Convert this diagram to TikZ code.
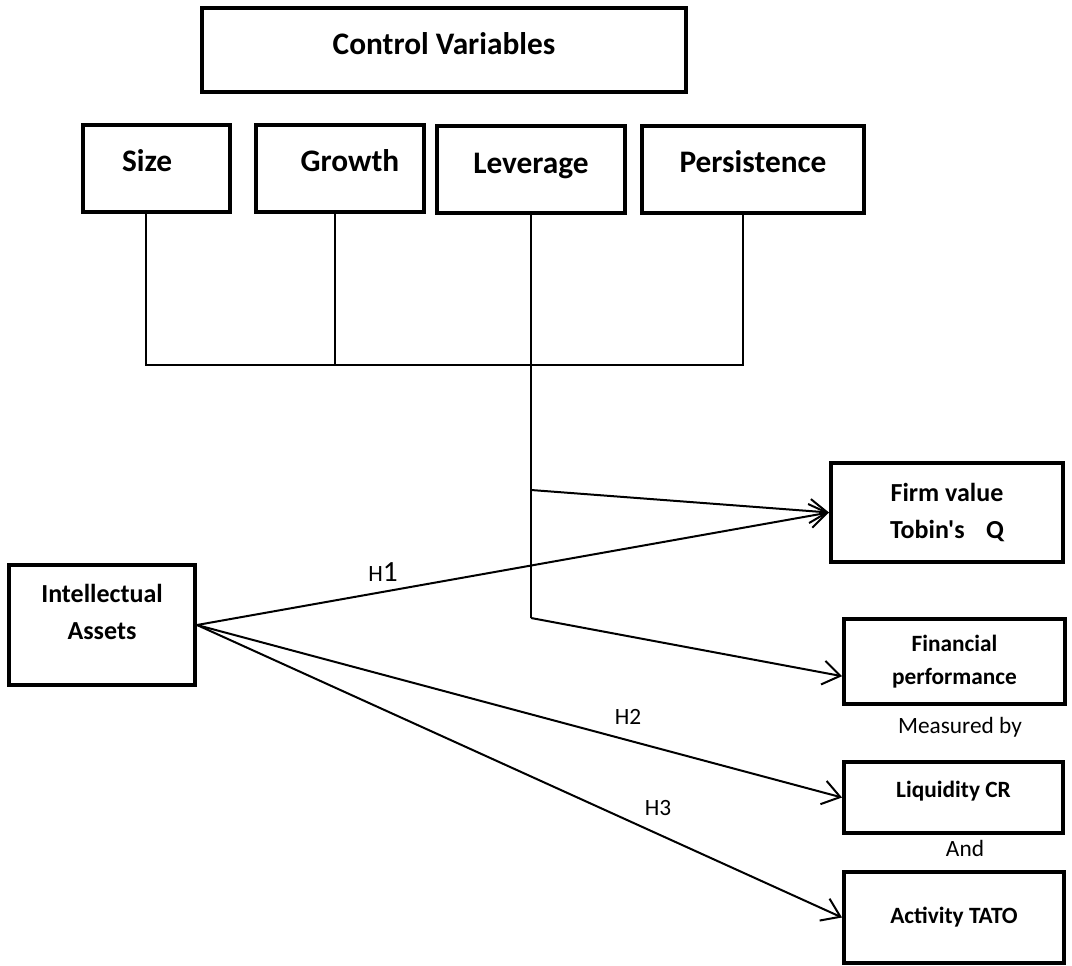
\documentclass[tikz,border=0pt]{standalone}
\usepackage{fontspec}
\setmainfont{Carlito}[Ligatures=TeXOff]
\usetikzlibrary{arrows.meta}

\newcommand{\boxlift}[2]{\raisebox{#1}[\height][\depth]{#2}}

\begin{document}
\begin{tikzpicture}[x=0.75pt,y=0.75pt,yscale=-1,xscale=1,
	box/.style={draw, line width=3pt, inner sep=0pt, align=center},
	big/.style={font=\fontsize{23.5}{28}\selectfont\bfseries},
	mid/.style={font=\fontsize{19.5}{27.75}\selectfont\bfseries},
	small/.style={font=\fontsize{17.5}{24.75}\selectfont\bfseries},
	note/.style={font=\fontsize{17.5}{21}\selectfont, inner sep=0pt},
	link/.style={line width=1.1pt},
	hyp/.style={line width=1.5pt, -{Straight Barb[length=13pt,width=18pt]}}]
	\useasboundingbox (0,0) rectangle (1072,966);
	
	%Shape: Rectangle [control variables]
	\node [box, big, minimum width=363pt, minimum height=63pt] (cv) at (444,50) {\boxlift{5pt}{Control Variables}};
	
	%Shape: Rectangle [size]
	\node [box, big, minimum width=110.25pt, minimum height=65.25pt] (size) at (156.5,168.5) {\boxlift{6pt}{Size\hspace{14pt}}};
	%Shape: Rectangle [growth]
	\node [box, big, minimum width=126pt, minimum height=65.25pt] (growth) at (340,168.5) {\boxlift{6pt}{\hspace{15pt}Growth}};
	%Shape: Rectangle [leverage]
	\node [box, big, minimum width=141pt, minimum height=65.25pt] (lev) at (531,169.5) {\boxlift{3pt}{Leverage}};
	%Shape: Rectangle [persistence]
	\node [box, big, minimum width=166.5pt, minimum height=65.25pt] (pers) at (753,169.5) {\boxlift{6pt}{Persistence}};
	
	%Shape: Rectangle [intellectual assets]
	\node [box, mid, minimum width=139.5pt, minimum height=90pt] (ia) at (102,625) {\boxlift{10pt}{Intellectual}\\\boxlift{10pt}{Assets}};
	
	%Shape: Rectangle [firm value]
	\node [box, mid, minimum width=174pt, minimum height=74.25pt] (firm) at (947,512.5) {Firm value\\Tobin's\hspace{0.6em} Q};
	%Shape: Rectangle [financial performance]
	\node [box, small, minimum width=165.75pt, minimum height=63.75pt] (fin) at (954.5,661.5) {Financial\\performance};
	%Shape: Rectangle [liquidity]
	\node [box, small, minimum width=164.25pt, minimum height=53.25pt] (liq) at (953.5,797.5) {\boxlift{5pt}{Liquidity CR}};
	%Shape: Rectangle [activity]
	\node [box, small, minimum width=165pt, minimum height=68.25pt] (act) at (954,917.5) {Activity TATO};
	
	% Text Node
	\node [note] (meas) at (960,727) {Measured by};
	% Text Node
	\node [note] (and) at (965,848) {And};
	
	%Straight Lines [control tree]
	\coordinate (bus) at (146,365);
	\coordinate (bus end) at (743,365);
	\coordinate (gdrop) at (335,365);
	\draw [link] (size.south -| bus) -- (bus) -- (bus end) -- (pers.south -| bus end);
	\draw [link] (growth.south -| gdrop) -- (gdrop);
	%Straight Lines [leverage drop]
	\coordinate (lev fork) at (531,490);
	\coordinate (lev bend) at (531,618);
	\draw [link] (lev.south) -- (lev bend);
	\draw [hyp] (lev fork) -- (firm.west);
	\draw [hyp] (lev bend) -- ([yshift=11pt]fin.west);
	
	%Straight Lines [hypotheses]
	\draw [hyp] (ia.east) -- (firm.west);
	\draw [hyp] (ia.east) -- (liq.west);
	\draw [hyp] (ia.east) -- (act.west);
	
	% Text Node
	\node [note] (h1) at (383,572) {H{\fontsize{22}{24}\selectfont 1}};
	% Text Node
	\node [note] (h2) at (628,717) {H2};
	% Text Node
	\node [note] (h3) at (658,808) {H3};
	
\end{tikzpicture}
\end{document}
